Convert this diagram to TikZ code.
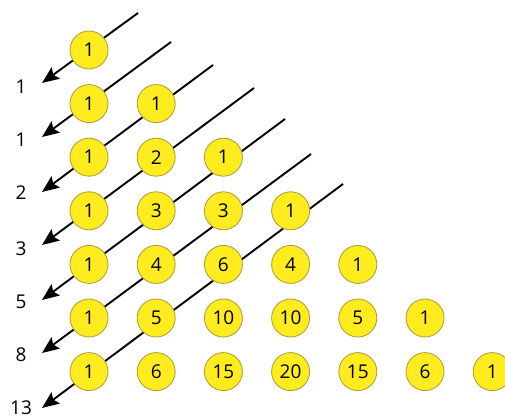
\documentclass[tikz,border=0pt]{standalone}
\usepackage{fontspec}
\setmainfont{Open Sans}
\usetikzlibrary{arrows.meta}
\definecolor{ballfill}{HTML}{FFEC1E}
\definecolor{balledge}{HTML}{A89A3A}
\tikzset{
  ball/.style={circle, fill=ballfill, draw=balledge, line width=0.8pt, minimum size=38pt, inner sep=0pt, font=\fontsize{19}{21}\selectfont},
  diag/.style={line width=1.9pt, -{Stealth[length=17pt,width=14pt,inset=3pt]}},
  sumlabel/.style={font=\fontsize{19}{21}\selectfont, inner sep=0pt}
}
\begin{document}
\begin{tikzpicture}[x=1pt,y=-1pt]
\useasboundingbox (0,0) rectangle (505,419);
\clip (0,0) rectangle (505,419);
% arrow end points
\coordinate (t1) at (138,13);  \coordinate (h1) at (42,83);
\coordinate (t2) at (171,42);  \coordinate (h2) at (42,137);
\coordinate (t3) at (213,65);  \coordinate (h3) at (42,192);
\coordinate (t4) at (254,88);  \coordinate (h4) at (42,245);
\coordinate (t5) at (285,119); \coordinate (h5) at (42,300);
\coordinate (t6) at (311,154); \coordinate (h6) at (42,353);
\coordinate (t7) at (343,184); \coordinate (h7) at (42,408);
\foreach \i in {1,...,7} { \draw[diag] (t\i) -- (h\i); }
% balls
\foreach \r/\vals in {0/{1}, 1/{1,1}, 2/{1,2,1}, 3/{1,3,3,1}, 4/{1,4,6,4,1}, 5/{1,5,10,10,5,1}, 6/{1,6,15,20,15,6,1}} {
  \foreach \v [count=\c from 0] in \vals {
    \node[ball] (b\r-\c) at ({89+67.2*\c},{50+53.6*\r}) {\v};
  }
}
% sums
\node[sumlabel] (s1) at (21,87) {1};
\node[sumlabel] (s2) at (21,140) {1};
\node[sumlabel] (s3) at (21,193) {2};
\node[sumlabel] (s4) at (21,249) {3};
\node[sumlabel] (s5) at (21,302) {5};
\node[sumlabel] (s6) at (21,355) {8};
\node[sumlabel] (s7) at (21,408) {13};
\end{tikzpicture}
\end{document}
